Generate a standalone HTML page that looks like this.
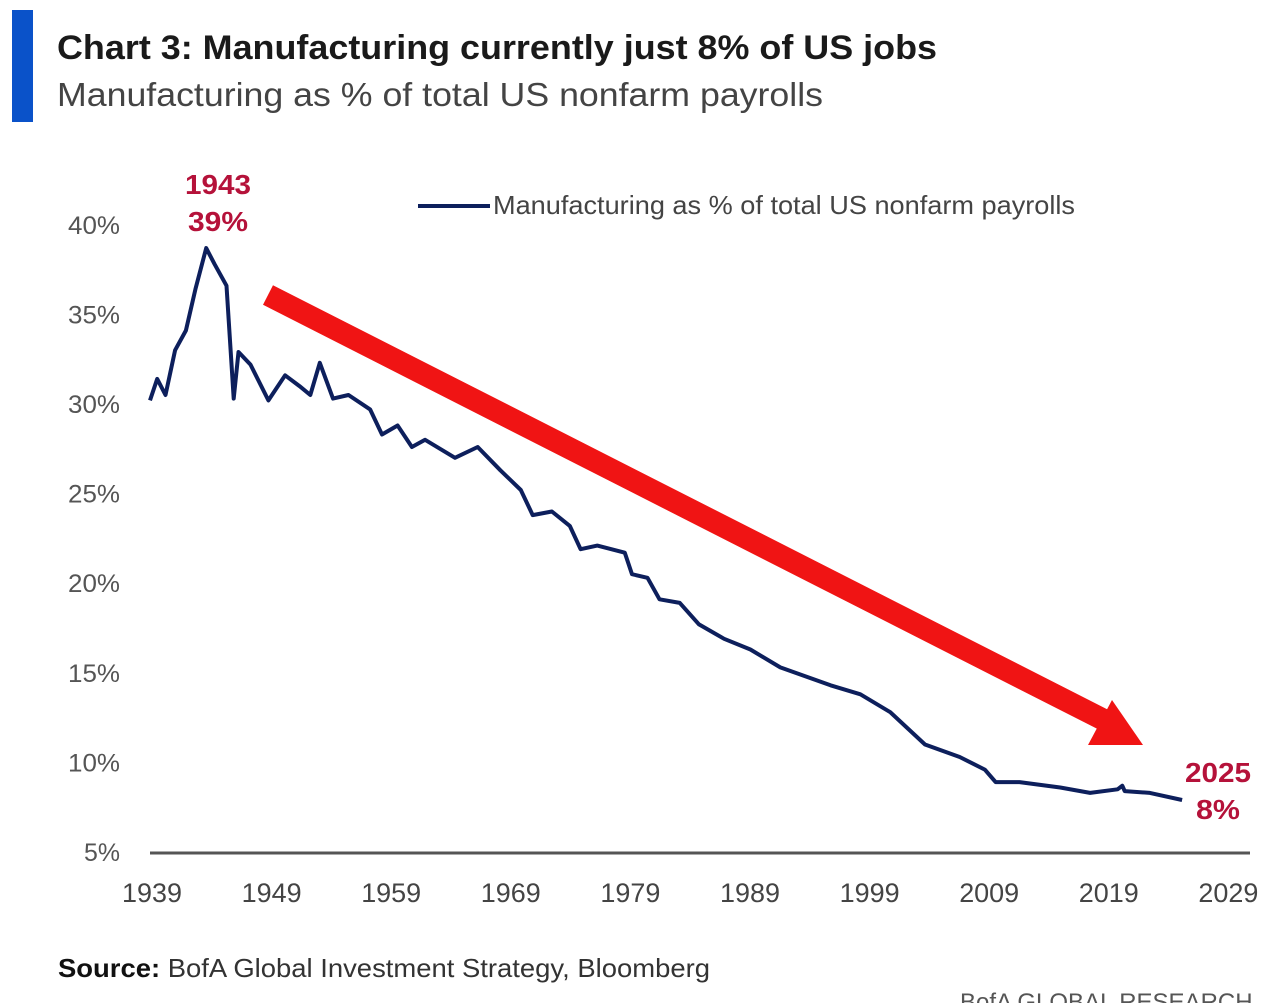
<!DOCTYPE html>
<html><head><meta charset="utf-8"><style>
html,body{margin:0;padding:0;background:#fff;}
svg{display:block;font-family:"Liberation Sans",sans-serif;}
</style></head><body>
<svg id="chart" width="1284" height="1003" viewBox="0 0 1284 1003">
<rect x="12" y="10" width="21" height="112" fill="#0a52c9"/>
<text x="57" y="59" font-size="34" font-weight="bold" fill="#1a1a1a" textLength="880" lengthAdjust="spacingAndGlyphs">Chart 3: Manufacturing currently just 8% of US jobs</text>
<text x="57" y="106" font-size="33" fill="#444" textLength="766" lengthAdjust="spacingAndGlyphs">Manufacturing as % of total US nonfarm payrolls</text>
<g id="yaxis"></g>
<g id="xaxis"></g>
<line x1="418" y1="206" x2="490" y2="206" stroke="#0d1f5c" stroke-width="4"/>
<text x="493" y="214" font-size="26" fill="#444" textLength="582" lengthAdjust="spacingAndGlyphs">Manufacturing as % of total US nonfarm payrolls</text>
<path id="series" fill="none" stroke="#0d1f5c" stroke-width="4" stroke-linejoin="round"/>
<line x1="268" y1="295" x2="1108" y2="722" stroke="#f01414" stroke-width="22"/>
<polygon points="1143,745 1088,745 1112,700" fill="#f01414"/>
<text x="218" y="194" font-size="28" font-weight="bold" fill="#b5123a" text-anchor="middle" textLength="66" lengthAdjust="spacingAndGlyphs">1943</text>
<text x="218" y="231" font-size="28" font-weight="bold" fill="#b5123a" text-anchor="middle" textLength="60" lengthAdjust="spacingAndGlyphs">39%</text>
<text x="1218" y="782" font-size="28" font-weight="bold" fill="#b5123a" text-anchor="middle" textLength="66" lengthAdjust="spacingAndGlyphs">2025</text>
<text x="1218" y="819" font-size="28" font-weight="bold" fill="#b5123a" text-anchor="middle" textLength="44" lengthAdjust="spacingAndGlyphs">8%</text>
<text x="58" y="977" font-size="26" fill="#333" textLength="652" lengthAdjust="spacingAndGlyphs"><tspan font-weight="bold" fill="#111">Source:</tspan> BofA Global Investment Strategy, Bloomberg</text>
<text x="960" y="1010" font-size="24" fill="#555">BofA GLOBAL RESEARCH</text>
</svg>
<script>
const years=[1939,1939.6,1940.3,1941.1,1942,1942.8,1943.7,1944.4,1945.4,1946,1946.4,1947.4,1948.9,1950.3,1951.5,1952.4,1953.2,1954.3,1955.6,1957.4,1958.4,1959.7,1960.9,1962,1964.5,1966.4,1968.3,1970,1971,1972.6,1974.1,1975,1976.4,1978.7,1979.3,1980.6,1981.6,1983.3,1984.9,1987,1989.2,1991.7,1995.9,1998.4,2000.9,2003.8,2006.7,2008.8,2009.7,2011.7,2015.1,2017.6,2019.9,2020.3,2020.5,2022.6,2025.3];
const values=[30.2,31.4,30.5,33,34.1,36.4,38.7,37.8,36.6,30.3,32.9,32.2,30.2,31.6,31,30.5,32.3,30.3,30.5,29.7,28.3,28.8,27.6,28,27,27.6,26.3,25.2,23.8,24,23.2,21.9,22.1,21.7,20.5,20.3,19.1,18.9,17.7,16.9,16.3,15.3,14.3,13.8,12.8,11,10.3,9.6,8.9,8.9,8.6,8.3,8.5,8.7,8.4,8.3,7.9];
const yTicks=[5,10,15,20,25,30,35,40];
const xTicks=[1939,1949,1959,1969,1979,1989,1999,2009,2019,2029];
const NS="http://www.w3.org/2000/svg";
function xs(yr){return 150+(yr-1939)*11.96;}
function ys(v){return 852-(v-5)*17.92;}
const ya=document.getElementById('yaxis'),xa=document.getElementById('xaxis');
yTicks.forEach(t=>{const e=document.createElementNS(NS,'text');


e.setAttribute('x',120);e.setAttribute('y',ys(t)+9);e.setAttribute('font-size','25');e.setAttribute('fill','#555');e.setAttribute('text-anchor','end');
e.setAttribute('textLength',t<10?36:52);e.setAttribute('lengthAdjust','spacingAndGlyphs');
e.textContent=t+'%';ya.appendChild(e);});
const ax=document.createElementNS(NS,'line');


ax.setAttribute('x1',150);ax.setAttribute('x2',1250);ax.setAttribute('y1',853);ax.setAttribute('y2',853);ax.setAttribute('stroke','#555');ax.setAttribute('stroke-width','3');xa.appendChild(ax);
xTicks.forEach(t=>{const e=document.createElementNS(NS,'text');


e.setAttribute('x',xs(t)+2);e.setAttribute('y',902);e.setAttribute('font-size','27');e.setAttribute('fill','#444');e.setAttribute('text-anchor','middle');
e.setAttribute('textLength',60);e.setAttribute('lengthAdjust','spacingAndGlyphs');
e.textContent=t;xa.appendChild(e);});
document.getElementById('series').setAttribute('d',years.map((y,i)=>(i?'L':'M')+xs(y).toFixed(1)+','+ys(values[i]).toFixed(1)).join(''));
</script>
</body></html>
